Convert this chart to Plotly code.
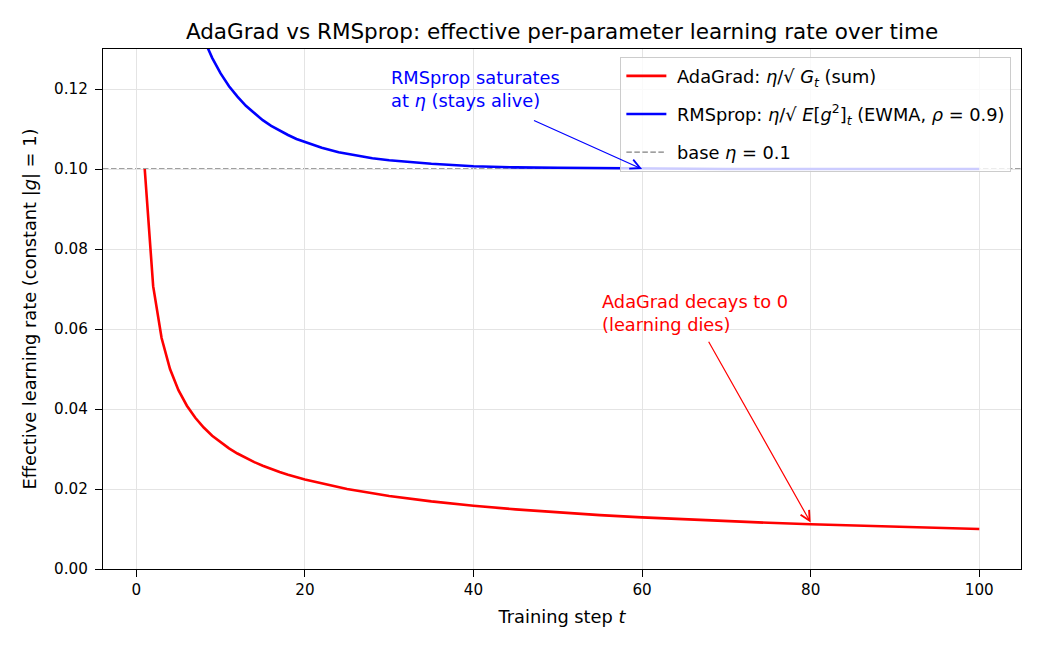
import plotly.graph_objects as go

# ---- data ----
ETA = 0.1
steps_ada = [1, 2, 3, 4, 5, 6, 7, 8, 9, 10, 11, 12, 13, 14, 15, 16, 17, 18, 19, 20,
             25, 30, 35, 40, 45, 50, 55, 60, 65, 70, 75, 80, 85, 90, 95, 100]
lr_adagrad = [0.1, 0.07071, 0.05774, 0.05, 0.04472, 0.04082, 0.0378, 0.03536, 0.03333, 0.03162,
              0.03015, 0.02887, 0.02774, 0.02673, 0.02582, 0.025, 0.02425, 0.02357, 0.02294, 0.02236,
              0.02, 0.01826, 0.0169, 0.01581, 0.01491, 0.01414, 0.01348, 0.01291, 0.0124, 0.01195,
              0.01155, 0.01118, 0.01085, 0.01054, 0.01026, 0.01]
steps_rms = [1, 2, 3, 4, 5, 6, 7, 8, 9, 10, 11, 12, 13, 14, 15, 16, 17, 18, 19, 20,
             22, 24, 26, 28, 30, 35, 40, 45, 50, 60, 70, 80, 90, 100]
lr_rmsprop = [0.3162, 0.2294, 0.1921, 0.1705, 0.1563, 0.1461, 0.1384, 0.1325, 0.1278, 0.1239,
              0.1207, 0.1181, 0.1158, 0.1139, 0.1122, 0.1108, 0.1096, 0.1085, 0.1075, 0.1067,
              0.1053, 0.1042, 0.1034, 0.1027, 0.1022, 0.1013, 0.1007, 0.1004, 0.1003, 0.1001,
              0.1000, 0.1000, 0.1000, 0.1000]
x_ticks = [0, 20, 40, 60, 80, 100]
y_ticks = [0.0, 0.02, 0.04, 0.06, 0.08, 0.10, 0.12]

FONT = "DejaVu Sans"
FS_TICK = 15.2
FS_LABEL = 17.8
FS_TEXT = 17.8
FS_TITLE = 21.5
DASH = "5.5px,2.5px"

fig = go.Figure()
fig.add_hline(y=ETA, line=dict(color="#808080", width=1.4, dash=DASH), layer="below")
fig.add_trace(go.Scatter(x=steps_ada, y=lr_adagrad, mode="lines", legendgroup="a",
                         line=dict(color="#ff0000", width=2.6),
                         name=" AdaGrad: <i>η</i>/√ <i>G</i><sub><i>t</i></sub> (sum)"))
fig.add_trace(go.Scatter(x=steps_rms, y=lr_rmsprop, mode="lines", legendgroup="b",
                         line=dict(color="#0000ff", width=2.6),
                         name=" RMSprop: <i>η</i>/√ <i>E</i>[<i>g</i><sup>2</sup>]<sub><i>t</i></sub> (EWMA, <i>ρ</i> = 0.9)"))
fig.add_trace(go.Scatter(x=[None], y=[None], mode="lines", legendgroup="c",
                         line=dict(color="#808080", width=1.4, dash=DASH),
                         name=" base <i>η</i> = 0.1"))

# annotations: arrows + texts
fig.add_annotation(x=60, y=ETA, ax=47, ay=0.1123, xref="x", yref="y", axref="x", ayref="y",
                   text="", showarrow=True, arrowhead=5, arrowsize=1.6, arrowwidth=1.2,
                   arrowcolor="#0000ff")
fig.add_annotation(x=30, y=0.1139, xref="x", yref="y", xanchor="left", yanchor="bottom",
                   align="left", showarrow=False,
                   text="RMSprop saturates<br>at <i>η</i> (stays alive)",
                   font=dict(family=FONT, size=FS_TEXT, color="#0000ff"))
fig.add_annotation(x=80, y=0.0116, ax=67.8, ay=0.0572, xref="x", yref="y", axref="x", ayref="y",
                   text="", showarrow=True, arrowhead=5, arrowsize=1.6, arrowwidth=1.2,
                   arrowcolor="#ff0000")
fig.add_annotation(x=55, y=0.0581, xref="x", yref="y", xanchor="left", yanchor="bottom",
                   align="left", showarrow=False,
                   text="AdaGrad decays to 0<br>(learning dies)",
                   font=dict(family=FONT, size=FS_TEXT, color="#ff0000"))

axis_common = dict(showline=True, linecolor="black", linewidth=1.1, mirror=True,
                   ticks="outside", ticklen=7, tickcolor="black", tickwidth=1.1,
                   showgrid=True, gridcolor="#e4e4e4", gridwidth=1, zeroline=False,
                   tickfont=dict(family=FONT, size=FS_TICK, color="black"))
fig.update_xaxes(range=[-3.95, 104.95], tickvals=x_ticks,
                 title=dict(text="Training step <i>t</i>", font=dict(family=FONT, size=FS_LABEL, color="black"), standoff=12),
                 **axis_common)
fig.update_yaxes(range=[0, 0.13], tickvals=y_ticks, tickformat=".2f", ticklabelstandoff=4,
                 title=dict(text="Effective learning rate (constant |<i>g</i>| = 1)",
                            font=dict(family=FONT, size=FS_LABEL, color="black"), standoff=12),
                 **axis_common)

fig.update_layout(
    width=1040, height=650,
    margin=dict(l=103, r=19, t=49, b=81),
    paper_bgcolor="white", plot_bgcolor="white",
    font=dict(family=FONT, size=FS_TICK, color="black"),
    title=dict(text="AdaGrad vs RMSprop: effective per-parameter learning rate over time",
               x=0.5, xref="paper", xanchor="center", y=1, yref="paper", yanchor="bottom",
               pad=dict(b=10), font=dict(family=FONT, size=FS_TITLE, color="black")),
    legend=dict(x=0.9895, y=0.985, xanchor="right", yanchor="top",
                bgcolor="rgba(255,255,255,0.8)", bordercolor="#cccccc", borderwidth=1,
                itemwidth=40, tracegroupgap=12,
                font=dict(family=FONT, size=FS_TEXT, color="black")),
    showlegend=True,
)

fig.write_html("out.html")
